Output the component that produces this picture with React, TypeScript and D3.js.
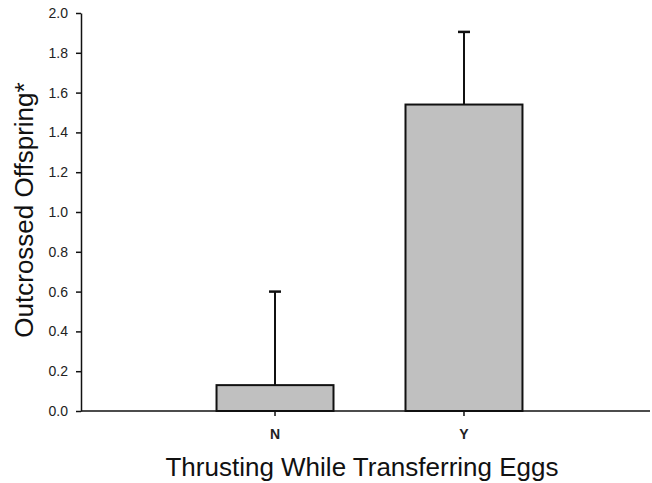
import React, { useEffect, useRef } from 'react'
import * as d3 from 'd3'

const categories = ['N', 'Y']
const means = [0.13, 1.54]
const upperErr = [0.6, 1.905]
const yTicks = [0, 0.2, 0.4, 0.6, 0.8, 1.0, 1.2, 1.4, 1.6, 1.8, 2.0]

const App = () => {
  const svgRef = useRef<SVGSVGElement>(null)

  useEffect(() => {
    const width = 652
    const height = 483
    const svg = d3.select(svgRef.current)
    svg.selectAll('*').remove()
    svg.attr('width', width).attr('height', height)

    const axisX = 81
    const axisRight = 650

    const x = d3.scaleBand()
      .domain(categories)
      .range([85, 654])
      .paddingInner(0.381)
      .paddingOuter(0.696)

    const y = d3.scaleLinear()
      .domain([0, 2])
      .range([411, 13])

    const font = 'Liberation Sans, Arial, sans-serif'

    // bars
    svg.selectAll('rect.bar')
      .data(categories)
      .enter()
      .append('rect')
      .attr('class', 'bar')
      .attr('x', d => x(d)!)
      .attr('y', (d, i) => y(means[i]))
      .attr('width', x.bandwidth())
      .attr('height', (d, i) => y(0) - y(means[i]))
      .attr('fill', '#c0c0c0')
      .attr('stroke', '#111')
      .attr('stroke-width', 2)

    // error bars (upper only)
    const eb = svg.selectAll('g.err')
      .data(categories)
      .enter()
      .append('g')
      .attr('class', 'err')
    eb.append('line')
      .attr('x1', d => x(d)! + x.bandwidth() / 2)
      .attr('x2', d => x(d)! + x.bandwidth() / 2)
      .attr('y1', (d, i) => y(means[i]))
      .attr('y2', (d, i) => y(upperErr[i]))
      .attr('stroke', '#111')
      .attr('stroke-width', 2)
    eb.append('line')
      .attr('x1', d => x(d)! + x.bandwidth() / 2 - 6)
      .attr('x2', d => x(d)! + x.bandwidth() / 2 + 6)
      .attr('y1', (d, i) => y(upperErr[i]))
      .attr('y2', (d, i) => y(upperErr[i]))
      .attr('stroke', '#111')
      .attr('stroke-width', 2.5)

    // y axis
    const ya = svg.append('g')
      .attr('transform', `translate(${axisX},0)`)
      .call(d3.axisLeft(y).tickValues(yTicks).tickFormat(d3.format('.1f')).tickSize(5).tickSizeOuter(0).tickPadding(8))
    ya.select('.domain').attr('stroke', '#111').attr('stroke-width', 1.5)
    ya.selectAll('.tick line').attr('stroke', '#111').attr('stroke-width', 1.5)
    ya.selectAll('.tick text')
      .attr('font-family', font)
      .attr('font-size', 14)
      .attr('fill', '#222')

    // x axis
    const xa = svg.append('g')
      .attr('transform', `translate(0,${y(0)})`)
      .call(d3.axisBottom(x).tickSize(5).tickSizeOuter(0).tickPadding(13))
    xa.select('.domain').remove()
    xa.append('line')
      .attr('x1', axisX)
      .attr('x2', axisRight)
      .attr('stroke', '#111')
      .attr('stroke-width', 1.5)
    xa.selectAll('.tick line').attr('stroke', '#111').attr('stroke-width', 1.5)
    xa.selectAll('.tick text')
      .attr('font-family', font)
      .attr('font-size', 14)
      .attr('font-weight', 'bold')
      .attr('fill', '#222')

    // titles
    svg.append('text')
      .attr('x', 362)
      .attr('y', 476)
      .attr('text-anchor', 'middle')
      .attr('font-family', font)
      .attr('font-size', 26)
      .attr('fill', '#111')
      .text('Thrusting While Transferring Eggs')

    svg.append('text')
      .attr('transform', `translate(33,210) rotate(-90)`)
      .attr('text-anchor', 'middle')
      .attr('font-family', font)
      .attr('font-size', 26)
      .attr('fill', '#111')
      .text('Outcrossed Offspring*')
  }, [])

  return (
    <div style={{ position: 'absolute', left: 0, top: 0 }}>
      <svg ref={svgRef} style={{ display: 'block' }}></svg>
    </div>
  )
}

export default App
